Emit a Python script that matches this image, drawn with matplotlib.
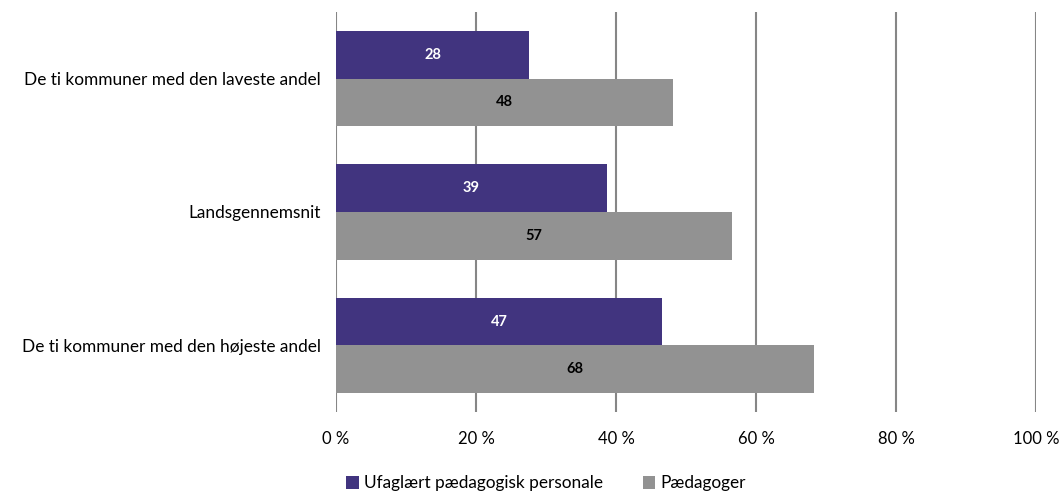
import matplotlib.pyplot as plt
import numpy as np

plt.rcParams['font.family'] = ['Lato', 'DejaVu Sans']

categories = ["De ti kommuner med den laveste andel", "Landsgennemsnit",
              "De ti kommuner med den højeste andel"]
ufaglaert = [27.6, 38.7, 46.6]
paedagoger = [48.1, 56.6, 68.3]
series_names = ["Ufaglært pædagogisk personale", "Pædagoger"]
xticks = [0, 20, 40, 60, 80, 100]

purple = "#41347f"
grey = "#929292"

fig = plt.figure(figsize=(10.61, 4.95), dpi=100)
ax = fig.add_axes([0.3167, 0.1677, 0.6597, 0.8081])

y = np.arange(len(categories))
h = 0.357
b1 = ax.barh(y - h / 2, ufaglaert, height=h, color=purple, label=series_names[0], zorder=2)
b2 = ax.barh(y + h / 2, paedagoger, height=h, color=grey, label=series_names[1], zorder=2)

for bar, v in zip(b1, ufaglaert):
    ax.text(bar.get_width() / 2, bar.get_y() + bar.get_height() / 2, f"{v:.0f}",
            ha="center", va="center", color="white", fontsize=10.5, fontweight="bold")
for bar, v in zip(b2, paedagoger):
    ax.text(bar.get_width() / 2, bar.get_y() + bar.get_height() / 2, f"{v:.0f}",
            ha="center", va="center", color="black", fontsize=10.5, fontweight="bold")

ax.set_ylim(2.5, -0.5)
ax.set_xlim(0, 100)
ax.set_yticks(y)
ax.set_yticklabels(categories, fontsize=12.4)
ax.set_xticks(xticks)
ax.set_xticklabels([f"{t} %" for t in xticks], fontsize=12)
ax.xaxis.grid(True, color="#868686", linewidth=1.5, zorder=0)
for s in ax.spines.values():
    s.set_visible(False)
ax.tick_params(axis="y", length=0, pad=11)
ax.tick_params(axis="x", length=0, pad=14)

ax.legend(loc="upper center", bbox_to_anchor=(0.3, -0.12), ncol=2, frameon=False,
          fontsize=12.4, handlelength=0.75, handleheight=0.75, handletextpad=0.3,
          columnspacing=2.3)

fig.savefig("out.png", dpi=100)
